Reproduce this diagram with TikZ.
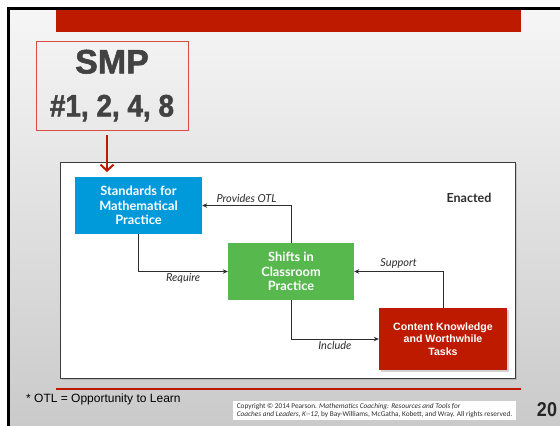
\documentclass[tikz,border=0pt]{standalone}
\usepackage{fontspec}
\setmainfont{Liberation Sans}
\newfontfamily\smpfont{Liberation Sans}[BoldFeatures={FakeBold=1.6}]
\newfontfamily\myriad{Lato}
\newfontfamily\notefont{Carlito}
\usepackage{graphicx}
\usepackage{xcolor}
\definecolor{SlideRed}{RGB}{190,26,0}
\definecolor{SmpGray}{RGB}{66,66,66}
\definecolor{SmpBorder}{RGB}{214,78,64}
\definecolor{StdBlue}{RGB}{0,153,218}
\definecolor{ShiftGreen}{RGB}{87,184,78}
\definecolor{EdgeColor}{RGB}{45,45,45}
\definecolor{PanelBorder}{RGB}{60,60,60}
\definecolor{SlideTop}{RGB}{246,246,246}
\definecolor{SlideBottom}{RGB}{202,202,202}
\usepackage{tikz}
\usetikzlibrary{
  positioning,
  arrows.meta,
  calc,
  shadows
}
\tikzset{
  % Coloured process box
  procbox/.style={
    rectangle,
    inner sep=0pt,
    text=white,
    align=center,
    font=\myriad\bfseries\fontsize{12.8}{14.7}\selectfont
  },
  stdbox/.style={procbox, fill=StdBlue, minimum width=127pt, minimum height=57pt},
  shiftbox/.style={procbox, fill=ShiftGreen, minimum width=126pt, minimum height=57pt},
  contbox/.style={procbox, fill=SlideRed, minimum width=128pt, minimum height=62pt,
    font=\bfseries\fontsize{10.6}{12.6}\selectfont,
    drop shadow={shadow xshift=2pt, shadow yshift=-2pt, opacity=0.35}},
  % White panel behind the diagram
  panel/.style={
    rectangle,
    draw=PanelBorder,
    fill=white,
    line width=0.6pt,
    minimum width=455pt,
    minimum height=216pt,
    drop shadow={shadow xshift=2pt, shadow yshift=-2pt, opacity=0.3}
  },
  % Framed SMP call-out
  smpbox/.style={
    rectangle,
    draw=SmpBorder,
    line width=0.8pt,
    minimum width=152pt,
    minimum height=89pt,
    align=center,
    text=SmpGray,
    font=\smpfont\bfseries\fontsize{31}{43}\selectfont
  },
  % Directed edge
  dedge/.style={
    draw=EdgeColor,
    line width=0.8pt,
    -{Stealth[length=5pt, width=4.5pt]}
  },
  smparrow/.style={
    draw=SlideRed,
    line width=2pt,
    -{Straight Barb[length=6pt, width=13pt]}
  },
  % Edge label
  elabel/.style={
    font=\myriad\itshape\fontsize{11}{12}\selectfont,
    text=EdgeColor,
    inner sep=2pt
  }
}

\begin{document}
\begin{tikzpicture}[x=1pt, y=-1pt]
  \useasboundingbox (0,0) rectangle (560,426);

  % Slide background
  \shade[top color=SlideTop, bottom color=SlideBottom] (7,7) rectangle (560,426);
  \draw[black, line width=3pt] (8.5,426) -- (8.5,8.5) -- (560,8.5);
  \fill[SlideRed] (56,10) rectangle (521,32);
  \draw[SlideRed, line width=1.5pt] (56,389) -- (521,389);

  \node[smpbox] (smp) at (112,85.5) {%
    {\fontsize{34}{43}\selectfont SMP}\\
    \scalebox{0.9}[1]{\#1, 2, 4, 8}};

  \node[panel] (panel) at (287.5,270) {};

  \node[stdbox]   (std)   at (138.5,205.5) {Standards for\\Mathematical\\Practice};
  \node[shiftbox] (shift) at (291,271.5)   {Shifts in\\Classroom\\Practice};
  \node[contbox]  (cont)  at (443,339)     {Content Knowledge\\and Worthwhile\\Tasks};
  \node[font=\myriad\bfseries\fontsize{12.5}{14}\selectfont, text=EdgeColor] (enacted) at (469,198) {Enacted};

  \coordinate (smptip) at (107,172);
  \draw[smparrow, shorten <=5pt] (smp.south -| smptip) -- (smptip);

  \draw[dedge] (shift.north) |- node[elabel, pos=0.75, above, yshift=1pt] {Provides OTL} (std.east);
  \draw[dedge] (std.south)   |- node[elabel, pos=0.75, below] {Require} (shift.west);
  \draw[dedge] (cont.north)  |- node[elabel, pos=0.75, above, yshift=1pt] {Support} (shift.east);
  \draw[dedge] (shift.south) |- node[elabel, pos=0.75, below] {Include} (cont.west);

  % Footer
  \node[anchor=west, inner sep=0pt, font=\fontsize{12}{14}\selectfont] (otl) at (26,399) {* OTL = Opportunity to Learn};
  \node[fill=white, minimum width=283pt, minimum height=19pt, inner sep=1pt, align=left,
        font=\notefont\fontsize{7.3}{8.4}\selectfont, text=EdgeColor] (copy) at (374.5,410.5) {%
    Copyright \textcopyright{} 2014 Pearson. \textit{Mathematics Coaching: Resources and Tools for}\\
    \textit{Coaches and Leaders, K--12}, by Bay-Williams, McGatha, Kobett, and Wray. All rights reserved.};
  \node[font=\bfseries\fontsize{20}{20}\selectfont, text=black!85] (pagenum) at (547,410) {\scalebox{0.9}[1]{20}};
\end{tikzpicture}
\end{document}
